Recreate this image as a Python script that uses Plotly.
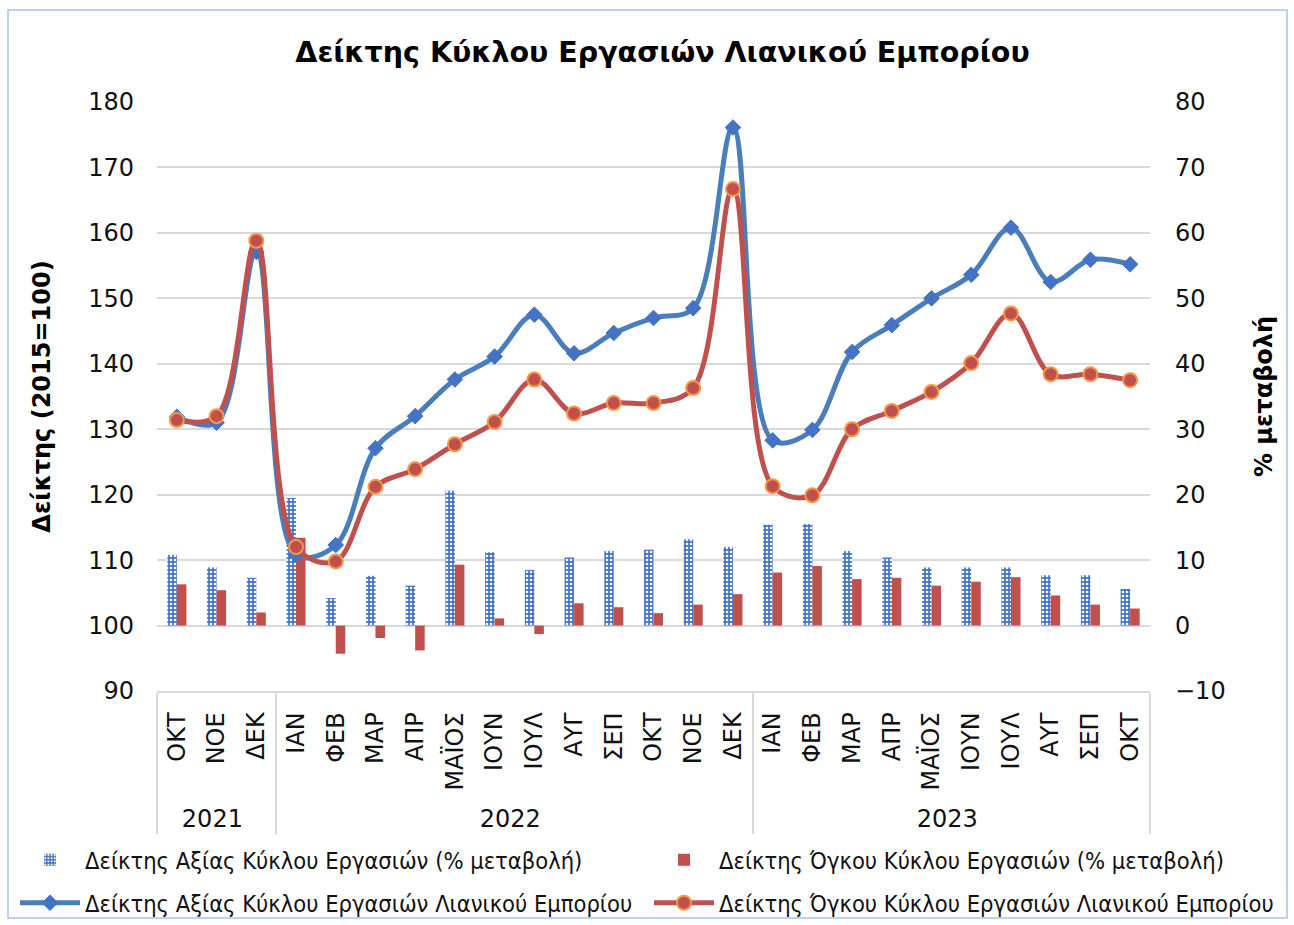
import plotly.graph_objects as go

years = ["2021"] * 3 + ["2022"] * 12 + ["2023"] * 10
months = ["ΟΚΤ", "ΝΟΕ", "ΔΕΚ",
          "ΙΑΝ", "ΦΕΒ", "ΜΑΡ", "ΑΠΡ", "ΜΑΪΟΣ", "ΙΟΥΝ", "ΙΟΥΛ", "ΑΥΓ", "ΣΕΠ", "ΟΚΤ", "ΝΟΕ", "ΔΕΚ",
          "ΙΑΝ", "ΦΕΒ", "ΜΑΡ", "ΑΠΡ", "ΜΑΪΟΣ", "ΙΟΥΝ", "ΙΟΥΛ", "ΑΥΓ", "ΣΕΠ", "ΟΚΤ"]

value_index = [131.9, 131.0, 157.1,
               110.8, 112.3, 127.1, 132.0, 137.6, 141.1, 147.5, 141.6, 144.7, 147.0, 148.5, 176.1,
               128.3, 129.9, 141.8, 145.9, 150.0, 153.6, 160.8, 152.5, 155.9, 155.2]
volume_index = [131.4, 132.0, 158.8,
                112.0, 109.8, 121.2, 123.9, 127.7, 131.1, 137.6, 132.4, 134.0, 134.0, 136.3, 166.7,
                121.3, 119.9, 130.0, 132.8, 135.7, 140.1, 147.7, 138.4, 138.4, 137.5]
value_pct = [10.8, 8.9, 7.3,
             19.5, 4.2, 7.6, 6.1, 20.6, 11.2, 8.5, 10.4, 11.4, 11.6, 13.2, 12.0,
             15.4, 15.5, 11.4, 10.4, 8.9, 8.9, 8.9, 7.7, 7.7, 5.6]
volume_pct = [6.3, 5.4, 2.0,
              13.4, -4.3, -1.9, -3.8, 9.3, 1.1, -1.3, 3.4, 2.8, 1.9, 3.2, 4.8,
              8.1, 9.1, 7.1, 7.3, 6.1, 6.7, 7.4, 4.6, 3.2, 2.6]

names = ["Δείκτης Αξίας Κύκλου Εργασιών (% μεταβολή)",
         "Δείκτης Όγκου Κύκλου Εργασιών (% μεταβολή)",
         "Δείκτης Αξίας Κύκλου Εργασιών Λιανικού Εμπορίου",
         "Δείκτης Όγκου Κύκλου Εργασιών Λιανικού Εμπορίου"]

# make repeated month names unique (invisible zero-width suffix) so that the
# multicategory axis keeps the chronological order
seen = {}
month_keys = []
for m in months:
    n = seen.get(m, 0)
    seen[m] = n + 1
    month_keys.append(m + "\u200b" * n)

x = [years, month_keys]
FONT = "DejaVu Sans"
LEGFONT = "DejaVu Sans Condensed, Liberation Sans"
TXT = "#111111"

fig = go.Figure()
fig.add_trace(go.Bar(
    x=x, y=value_pct, name=names[0], yaxis="y", legend="legend",
    marker=dict(color="#4472C4", line=dict(width=0),
                pattern=dict(shape=".", bgcolor="#4472C4", fgcolor="white",
                             size=4, solidity=0.35, fillmode="replace")),
))
fig.add_trace(go.Bar(
    x=x, y=volume_pct, name=names[1], yaxis="y", legend="legend2",
    marker=dict(color="#C0504D", line=dict(width=0)),
))
fig.add_trace(go.Scatter(
    x=x, y=value_index, name=names[2], yaxis="y2", legend="legend3",
    mode="lines+markers",
    line=dict(color="#4A7EBB", width=5, shape="spline", smoothing=1.0),
    marker=dict(symbol="diamond", size=12, color="#4472C4",
                line=dict(color="#4472C4", width=1)),
))
fig.add_trace(go.Scatter(
    x=x, y=volume_index, name=names[3], yaxis="y2", legend="legend4",
    mode="lines+markers",
    line=dict(color="#C0504D", width=5, shape="spline", smoothing=1.0),
    marker=dict(symbol="circle", size=14, color="#C0504D",
                line=dict(color="#F79646", width=2)),
))

def px_x(p):
    return (p - 157) / 993.0

def px_y(p):
    return (691 - p) / 589.0

def leg(xp, yp):
    return dict(orientation="h", x=px_x(xp), xanchor="left",
                y=px_y(yp), yanchor="middle",
                itemwidth=60, bgcolor="rgba(0,0,0,0)",
                font=dict(family=LEGFONT, size=23.5, color=TXT))

fig.update_layout(
    width=1294, height=925,
    margin=dict(l=157, r=144, t=102, b=234, autoexpand=False),
    paper_bgcolor="white", plot_bgcolor="white",
    font=dict(family=FONT, size=24, color=TXT),
    title=dict(text="<b>Δείκτης Κύκλου Εργασιών Λιανικού Εμπορίου</b>",
               x=0.512, xref="container", xanchor="center",
               y=1 - 52 / 925, yref="container", yanchor="middle",
               font=dict(family=FONT, size=28.5, color="#000000")),
    barmode="group", bargap=0.52, bargroupgap=0.0,
    xaxis=dict(type="multicategory", tickangle=-90, showgrid=False,
               range=[-0.5, len(months) - 0.5],
               showline=True, linecolor="#D9D9D9", linewidth=1.5,
               showdividers=True, dividercolor="#D9D9D9", dividerwidth=1.5,
               ticklabelstandoff=10,
               tickfont=dict(family=FONT, size=24, color=TXT), ticks=""),
    yaxis=dict(side="right", range=[-10, 80], dtick=10, tick0=-10,
               showgrid=True, gridcolor="#D9D9D9", gridwidth=1.5,
               zeroline=False, ticks="", ticklabelstandoff=24,
               tickfont=dict(family=FONT, size=24, color=TXT),
               title=dict(text="<b>% μεταβολή</b>", standoff=30,
                          font=dict(family=FONT, size=24, color="#000000"))),
    yaxis2=dict(side="left", overlaying="y", range=[90, 180], dtick=10, tick0=90,
                showgrid=False, zeroline=False, ticks="", ticklabelstandoff=22,
                tickfont=dict(family=FONT, size=24, color=TXT),
                title=dict(text="<b>Δείκτης (2015=100)</b>", standoff=30,
                           font=dict(family=FONT, size=24, color="#000000"))),
    legend=leg(15, 860),
    legend2=leg(649, 860),
    legend3=leg(15, 903),
    legend4=leg(649, 903),
    showlegend=True,
    shapes=[dict(type="rect", xref="paper", yref="paper",
                 x0=px_x(8), x1=px_x(1287), y0=px_y(918), y1=px_y(10),
                 line=dict(color="#A9C4EB", width=1.5), fillcolor="rgba(0,0,0,0)",
                 layer="below")],
)

fig.write_html("out.html", config={"displayModeBar": False},
               post_script="document.body.style.margin='0';")
